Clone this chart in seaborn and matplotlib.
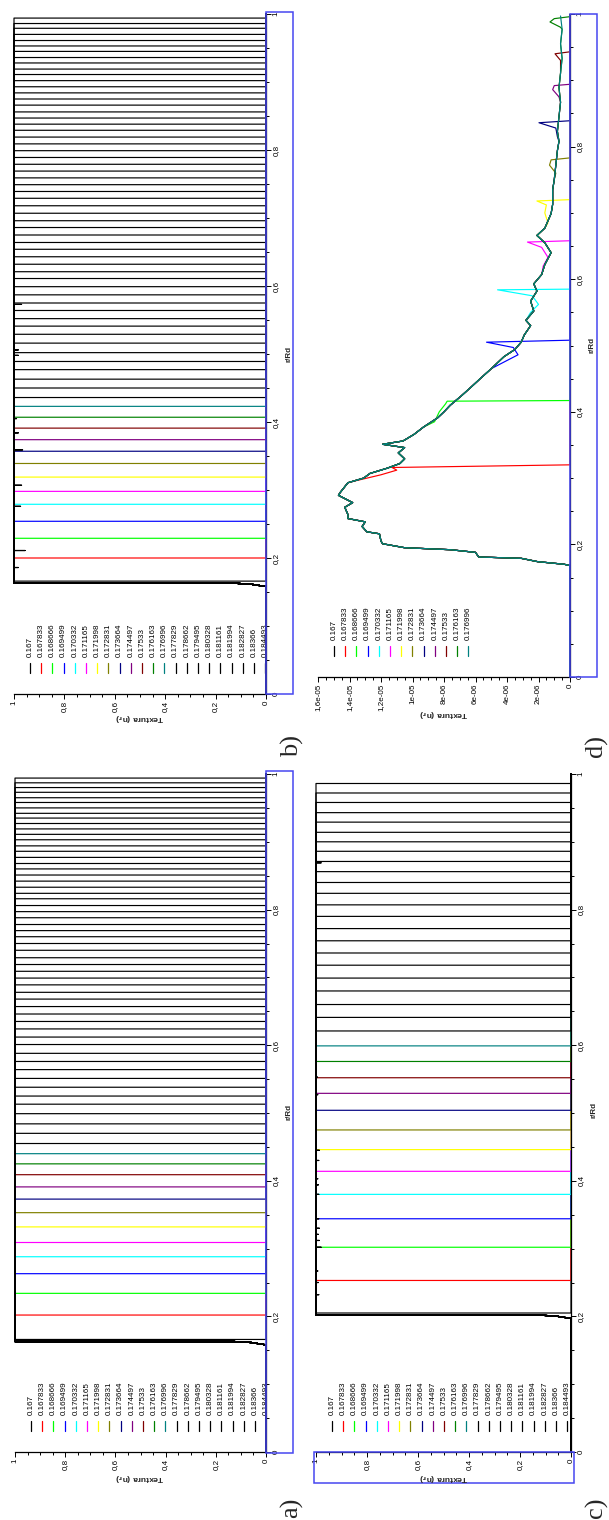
import numpy as np
import pandas as pd
import seaborn as sns
import matplotlib
matplotlib.use("Agg")
import matplotlib.pyplot as plt
from matplotlib.lines import Line2D
from matplotlib.patches import Rectangle
from matplotlib.ticker import MultipleLocator, FuncFormatter

# ------------------------------------------------------------------ data
TIMES = ["0.167", "0.167833", "0.168666", "0.169499", "0.170332", "0.171165",
         "0.171998", "0.172831", "0.173664", "0.174497", "0.17533", "0.176163",
         "0.176996", "0.177829", "0.178662", "0.179495", "0.180328", "0.181161",
         "0.181994", "0.182827", "0.18366", "0.184493"]

SERIES_COLORS = ["#000000", "#ff0000", "#00ff00", "#0000ff", "#00ffff", "#ff00ff",
                 "#ffff00", "#808000", "#000080", "#800080", "#800000", "#008000",
                 "#008080"]

# texture onset (r/Rd) and front position of every curve, panel a
A_ONSET = 0.163
A_FRONTS = [0.166, 0.202, 0.234, 0.263, 0.288, 0.309, 0.332, 0.353, 0.373, 0.391,
            0.409, 0.425, 0.440, 0.455, 0.470, 0.484, 0.499, 0.513, 0.525, 0.538,
            0.551, 0.564, 0.576, 0.588, 0.601, 0.612, 0.624, 0.635, 0.646, 0.657,
            0.668, 0.678, 0.689, 0.699, 0.709, 0.719, 0.729, 0.740, 0.750, 0.760,
            0.769, 0.778, 0.788, 0.797, 0.806, 0.816, 0.824, 0.833, 0.842, 0.851,
            0.860, 0.868, 0.877, 0.886, 0.894, 0.903, 0.911, 0.919, 0.927, 0.935,
            0.942, 0.950, 0.958, 0.965, 0.973, 0.980, 0.987, 0.994]

# panel b
B_ONSET = 0.163
B_FRONTS = [0.166, 0.200, 0.229, 0.254, 0.279, 0.298, 0.319, 0.339, 0.357, 0.374,
            0.391, 0.407, 0.423, 0.436, 0.450, 0.463, 0.477, 0.489, 0.502, 0.516,
            0.529, 0.541, 0.552, 0.564, 0.575, 0.587, 0.599, 0.611, 0.621, 0.632,
            0.643, 0.654, 0.664, 0.675, 0.686, 0.696, 0.707, 0.718, 0.729, 0.739,
            0.749, 0.759, 0.769, 0.779, 0.789, 0.799, 0.809, 0.819, 0.829, 0.838,
            0.847, 0.856, 0.866, 0.875, 0.884, 0.893, 0.902, 0.911, 0.919, 0.928,
            0.936, 0.945, 0.953, 0.961, 0.970, 0.979, 0.986, 0.994]
B_DIPS_R = [0.186, 0.211, 0.276, 0.307, 0.359, 0.384, 0.405, 0.498, 0.506, 0.573]
B_DIPS_T = [0.983, 0.956, 0.974, 0.970, 0.966, 0.983, 0.990, 0.983, 0.983, 0.970]

# panel c
C_ONSET = 0.202
C_FRONTS = [0.205, 0.253, 0.302, 0.344, 0.380, 0.414, 0.446, 0.475, 0.504, 0.529,
            0.552, 0.576, 0.599, 0.621, 0.641, 0.660, 0.680, 0.699, 0.718, 0.736,
            0.754, 0.772, 0.790, 0.807, 0.824, 0.840, 0.856, 0.871, 0.886, 0.900,
            0.914, 0.929, 0.943, 0.958, 0.972, 0.986]
C_DIPS_R = [0.232, 0.250, 0.267, 0.302, 0.312, 0.321, 0.330, 0.344, 0.380, 0.394,
            0.403, 0.430, 0.445, 0.527, 0.553, 0.869]
C_DIPS_T = [0.989, 0.991, 0.993, 0.980, 0.987, 0.991, 0.987, 0.989, 0.989, 0.991,
            0.993, 0.989, 0.987, 0.993, 0.995, 0.980]

# panel d: common texture profile (units of 1e-6)
D_R = [0.168, 0.170, 0.174, 0.179, 0.181, 0.188, 0.192, 0.195, 0.201, 0.205,
       0.216, 0.219, 0.227, 0.234, 0.239, 0.245, 0.256, 0.263, 0.274, 0.278,
       0.293, 0.300, 0.307, 0.315, 0.322, 0.329, 0.338, 0.346, 0.351, 0.356,
       0.366, 0.377, 0.391, 0.400, 0.410, 0.424, 0.439, 0.450, 0.465, 0.483,
       0.494, 0.505, 0.516, 0.530, 0.538, 0.552, 0.567, 0.582, 0.593, 0.607,
       0.622, 0.640, 0.655, 0.666, 0.677, 0.699, 0.713, 0.735, 0.750, 0.772,
       0.794, 0.808, 0.823, 0.845, 0.867, 0.889, 0.911, 0.933, 0.955, 0.977, 0.997]
D_T = [0.0, 0.36, 2.06, 3.1, 5.8, 6.0, 7.6, 10.5, 11.9, 12.0,
       12.1, 12.9, 13.2, 13.0, 14.1, 14.1, 14.3, 13.8, 14.7, 14.6,
       14.1, 13.1, 12.7, 11.6, 10.8, 10.5, 10.9, 10.5, 11.9, 10.6,
       9.9, 9.3, 8.4, 8.0, 7.6, 6.9, 6.2, 5.7, 5.0, 4.2,
       3.5, 3.1, 2.9, 2.5, 2.8, 2.3, 2.5, 2.1, 2.3, 1.8,
       1.6, 1.2, 1.6, 2.1, 1.6, 1.2, 1.1, 1.1, 1.0, 0.9,
       0.8, 0.7, 0.8, 0.7, 0.6, 0.7, 0.6, 0.5, 0.6, 0.5, 0.6]
# front position of each curve in panel d and the local bump before it
D_FRONTS = [0.168, 0.320, 0.417, 0.508, 0.585, 0.658, 0.720, 0.783, 0.839,
            0.894, 0.943, 0.996, None]
D_BUMP_R = [[], [0.296, 0.305, 0.312, 0.316], [0.385, 0.400, 0.412, 0.416],
            [0.470, 0.486, 0.497, 0.505], [0.550, 0.562, 0.575, 0.584],
            [0.620, 0.633, 0.648, 0.656], [0.685, 0.700, 0.712, 0.718],
            [0.760, 0.772, 0.780], [0.815, 0.828, 0.836], [0.875, 0.886, 0.892],
            [0.930, 0.940], [0.980, 0.988, 0.993], []]
D_BUMP_T = [[], [13.6, 12.0, 11.0, 11.3], [8.6, 8.3, 7.9, 7.8],
            [4.6, 3.3, 3.6, 5.3], [2.5, 2.0, 2.4, 4.6],
            [1.7, 1.4, 1.8, 2.7], [1.4, 1.6, 1.5, 2.1],
            [0.9, 1.3, 1.2], [0.8, 0.9, 1.97], [0.7, 1.1, 1.0],
            [0.6, 0.95], [0.6, 1.27, 1.0], []]

# ------------------------------------------------------------------ style
sns.set_theme(style="white")
plt.rcParams['font.family'] = ['Liberation Sans', 'DejaVu Sans']
plt.rcParams['mathtext.fontset'] = 'dejavusans'

W, H = 609, 1520
fig = plt.figure(figsize=(W / 100, H / 100), dpi=100)

FS = 5.8
LW = 0.85
BOX_BLUE = "#4646f0"

# pixel boxes of the four plotting areas: x(Textura=max), x(Textura=0), y(r=1), y(r=0)
BOXES = {'b': (14, 266, 14, 694), 'd': (318, 570, 14, 677),
         'a': (15, 266, 774, 1452), 'c': (316, 571, 774, 1452)}


def color_of(i):
    return SERIES_COLORS[i] if i < len(SERIES_COLORS) else "#000000"


def make_axes(key):
    x0, x1, yt, yb = BOXES[key]
    return fig.add_axes([x0 / W, 1 - yb / H, (x1 - x0) / W, (yb - yt) / H])


def comma_fmt(v, pos=None):
    if abs(v) < 1e-12:
        return "0"
    if abs(v - 1) < 1e-9:
        return "1"
    return f"{v:.1f}".replace(".", ",")


def sci_fmt(v, pos=None):
    if abs(v) < 1e-15:
        return "0"
    mant, ex = f"{v:.1e}".split("e")
    mant = mant.rstrip("0").rstrip(".").replace(".", ",")
    return f"{mant}e{ex}"


def style_axes(ax, xmax, xmajor, xminor, xfmt):
    ax.set_xlim(xmax, 0)
    ax.set_ylim(0, 1)
    ax.set_xlabel("")
    ax.set_ylabel("")
    ax.grid(False)
    ax.patch.set_alpha(0)
    for s in ("top", "left"):
        ax.spines[s].set_visible(False)
    for s in ("bottom", "right"):
        ax.spines[s].set_visible(True)
        ax.spines[s].set_color("black")
        ax.spines[s].set_linewidth(0.9)
    ax.yaxis.tick_right()
    ax.xaxis.set_major_locator(MultipleLocator(xmajor))
    ax.xaxis.set_minor_locator(MultipleLocator(xminor))
    ax.yaxis.set_major_locator(MultipleLocator(0.2))
    ax.yaxis.set_minor_locator(MultipleLocator(0.05))
    ax.xaxis.set_major_formatter(FuncFormatter(xfmt))
    ax.yaxis.set_major_formatter(FuncFormatter(comma_fmt))
    ax.tick_params(which="both", direction="out", colors="black", width=0.7,
                   bottom=True, right=True, left=False, top=False,
                   labelbottom=True, labelright=True, labelleft=False)
    ax.tick_params(which="major", length=3.5, labelsize=FS, pad=1.2)
    ax.tick_params(which="minor", length=2.2)
    ax.tick_params(axis="x", labelrotation=90)
    ax.tick_params(axis="y", labelrotation=90)
    for lab in ax.get_yticklabels():
        lab.set_va("center")


def step_frame(onset, fronts, dips_r=(), dips_t=()):
    parts = []
    n = len(fronts)
    for i, f in enumerate(fronts):
        r = [0.0, onset - 0.005, onset - 0.0015, onset, onset]
        t = [0.0, 0.0, 0.06, 0.13, 1.0]
        if i == n - 1:
            for dr, dt in zip(dips_r, dips_t):
                r += [dr, dr, dr]
                t += [1.0, dt, 1.0]
        r += [f, f, 1.0]
        t += [1.0, 0.0, 0.0]
        parts.append(pd.DataFrame({"r": r, "tex": t, "curve": i}))
    return pd.concat(parts, ignore_index=True)


def profile_frame():
    parts = []
    prof_r = np.array(D_R)
    prof_t = np.array(D_T) * 1e-6
    for i, f in enumerate(D_FRONTS):
        br, bt = D_BUMP_R[i], D_BUMP_T[i]
        if i == 0:
            r = [0.0, f, 1.0]
            t = [0.0, 0.0, 0.0]
        else:
            cut = br[0] if br else 2.0
            keep = prof_r < cut
            r = [0.0] + list(prof_r[keep]) + list(br)
            t = [0.0] + list(prof_t[keep]) + [v * 1e-6 for v in bt]
            if f is not None:
                r += [f, 1.0]
                t += [0.0, 0.0]
        parts.append(pd.DataFrame({"r": r, "tex": t, "curve": i}))
    return pd.concat(parts, ignore_index=True)


def draw_curves(ax, df, unclipped=False):
    n = df["curve"].nunique()
    pal = {i: color_of(i) for i in range(n)}
    sns.lineplot(data=df, x="tex", y="r", hue="curve", hue_order=list(range(n)),
                 palette=pal, estimator=None, sort=False, legend=False,
                 linewidth=LW, ax=ax)
    if unclipped:
        # the plateau sits on the Textura = 1 edge; keep its full stroke
        for ln in ax.get_lines():
            ln.set_clip_on(False)


def draw_legend(ax, key, count):
    x0, x1, yt, yb = BOXES[key]
    fx = lambda px: (px - x0) / (x1 - x0)
    fy = lambda py: (yb - py) / (yb - yt)
    for k in range(count):
        px = x0 + 16 + 11.2 * k
        ln = Line2D([fx(px), fx(px)], [fy(yb - 21), fy(yb - 31)],
                    transform=ax.transAxes, color=color_of(k), lw=0.9,
                    clip_on=True)
        ax.add_line(ln)
        ax.text(fx(px), fy(yb - 37), TIMES[k], transform=ax.transAxes,
                rotation=90, ha="center", va="bottom", fontsize=FS,
                color="black", clip_on=True)


def fig_text(px, py, s, **kw):
    fig.text(px / W, 1 - py / H, s, **kw)


def blue_box(xa, ya, xb, yb):
    fig.add_artist(Rectangle((xa / W, 1 - yb / H), (xb - xa) / W, (yb - ya) / H,
                             transform=fig.transFigure, fill=False,
                             edgecolor=BOX_BLUE, linewidth=1.1))


TEX_LABEL = r"Textura (n$_\mathbf{r}$)"

# ------------------------------------------------------------------ panel b
ax_b = make_axes('b')
draw_curves(ax_b, step_frame(B_ONSET, B_FRONTS, B_DIPS_R, B_DIPS_T), unclipped=True)
style_axes(ax_b, 1.0, 0.2, 0.05, comma_fmt)
draw_legend(ax_b, 'b', 22)

# ------------------------------------------------------------------ panel d
ax_d = make_axes('d')
draw_curves(ax_d, profile_frame())
style_axes(ax_d, 1.6e-5, 2e-6, 5e-7, sci_fmt)
draw_legend(ax_d, 'd', 13)

# ------------------------------------------------------------------ panel a
ax_a = make_axes('a')
draw_curves(ax_a, step_frame(A_ONSET, A_FRONTS), unclipped=True)
style_axes(ax_a, 1.0, 0.2, 0.05, comma_fmt)
draw_legend(ax_a, 'a', 22)

# ------------------------------------------------------------------ panel c
ax_c = make_axes('c')
draw_curves(ax_c, step_frame(C_ONSET, C_FRONTS, C_DIPS_R, C_DIPS_T), unclipped=True)
style_axes(ax_c, 1.0, 0.2, 0.05, comma_fmt)
draw_legend(ax_c, 'c', 22)

# ------------------------------------------------------------------ labels and frames
for (px, py) in [(289, 354), (592, 345), (289, 1112), (594, 1110)]:
    fig_text(px, py, "r/Rd", rotation=90, ha="center", va="center",
             fontsize=FS, fontweight="bold")
for (px, py) in [(140, 717), (444, 713), (140, 1477), (444, 1477)]:
    fig_text(px, py, TEX_LABEL, rotation=180, ha="center", va="center",
             fontsize=FS + 0.3, fontweight="bold")

blue_box(266, 12, 293, 694)
blue_box(570, 14, 597, 677)
blue_box(266, 771, 293, 1453)
blue_box(314, 1452, 574, 1483)

for s, (px, py) in zip(["b)", "d)", "a)", "c)"],
                       [(292, 746), (596, 746), (292, 1508), (596, 1508)]):
    fig_text(px, py, s, rotation=90, ha="center", va="center", fontsize=19,
             family=["Liberation Serif", "DejaVu Serif"])

fig.savefig("out.png", dpi=100, facecolor="white")
